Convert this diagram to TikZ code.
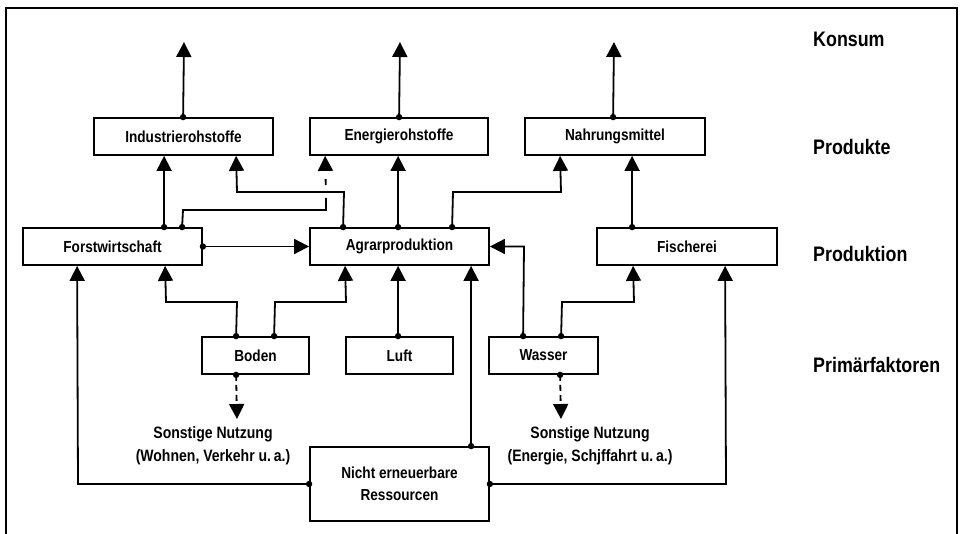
\documentclass[tikz,border=0pt]{standalone}
\usepackage{fontspec}
\setmainfont{Liberation Sans}[FakeStretch=0.85]
\usetikzlibrary{arrows.meta}
\begin{document}
\begin{tikzpicture}[x=1pt,y=-1pt,
  box/.style={draw, line width=1.8pt, inner sep=0pt, align=center, font=\fontsize{16}{22}\selectfont\bfseries},
  lab/.style={anchor=base west, inner sep=0pt, font=\fontsize{21}{24}\selectfont\bfseries},
  note/.style={inner sep=0pt, align=center, font=\fontsize{16.5}{23}\selectfont\bfseries},
  ln/.style={line width=1.8pt},
  arr/.style={ln, -{Triangle[length=15pt,width=15pt]}},
  dsh/.style={arr, dash pattern=on 6pt off 4pt}]
\useasboundingbox (0,0) rectangle (962,534);
% frame
\draw[ln] (6,534) -- (6,8) -- (957,8) -- (957,534);
% boxes
\node[box, minimum width=179pt, minimum height=37pt] (ind) at (183.5,136.5) {Industrierohstoffe};
\node[box, minimum width=178pt, minimum height=37pt] (ene) at (399,136.5) {Energierohstoffe};
\node[box, minimum width=180pt, minimum height=37pt] (nah) at (615,136.5) {Nahrungsmittel};
\node[box, minimum width=179pt, minimum height=37pt] (forst) at (112.5,246.5) {Forstwirtschaft};
\node[box, minimum width=179pt, minimum height=37pt] (agrar) at (399.5,246.5) {Agrarproduktion};
\node[box, minimum width=180pt, minimum height=37pt] (fisch) at (687,246.5) {Fischerei};
\node[box, minimum width=107pt, minimum height=37pt] (boden) at (255.5,355.5) {Boden};
\node[box, minimum width=107pt, minimum height=37pt] (luft) at (399.5,355.5) {Luft};
\node[box, minimum width=109pt, minimum height=37pt] (wasser) at (543.5,355.5) {Wasser};
\node[box, minimum width=179pt, minimum height=74pt] (res) at (399.5,484) {Nicht erneuerbare\\Ressourcen};
% right labels
\node[lab] (konsum) at (813,47) {Konsum};
\node[lab] (produkte) at (813,155) {Produkte};
\node[lab] (produktion) at (813,262) {Produktion};
\node[lab] (primaer) at (813,373) {Primärfaktoren};
% other use labels
\node[note] (sn1) at (213,445.5) {Sonstige Nutzung\\(Wohnen, Verkehr u.\,a.)};
\node[note] (sn2) at (590,445.5) {Sonstige Nutzung\\(Energie, Schjffahrt u.\,a.)};
% free ends
\coordinate (k1) at (184,42);
\coordinate (k2) at (400,42);
\coordinate (k3) at (614,42);
\coordinate (so1) at (237,419);
\coordinate (so2) at (561,419);
% connectors
\draw[arr] ([xshift=90pt]ind.north west) coordinate (d1) -- (k1);
\draw[arr] ([xshift=90pt]ene.north west) coordinate (d2) -- (k2);
\draw[arr] ([xshift=89pt]nah.north west) coordinate (d3) -- (k3);
\draw[arr] ([xshift=142pt]forst.north west) coordinate (d4) -- ([xshift=71pt]ind.south west);
\draw[ln] ([xshift=160pt]forst.north west) coordinate (d5) -- (183,210) -- (326,210) -- (326,198) coordinate (w5);
\draw[arr, dash pattern=on 0pt off 13pt on 6pt off 40pt] (w5) -- ([xshift=16pt]ene.south west);
\draw[arr] ([xshift=34pt]agrar.north west) coordinate (d6) -- (344,192) -- (237,192) -- ([xshift=143pt]ind.south west);
\draw[arr] ([xshift=89pt]agrar.north west) coordinate (d7) -- ([xshift=89pt]ene.south west);
\draw[arr] ([xshift=143pt]agrar.north west) coordinate (d8) -- (453,192) -- (561,192) -- ([xshift=36pt]nah.south west);
\draw[arr] ([xshift=36pt]fisch.north west) coordinate (d9) -- ([xshift=108pt]nah.south west);
\draw[arr] (forst.east) coordinate (d10) -- (agrar.west);
\draw[arr] ([xshift=35pt]wasser.north west) coordinate (d11) -- (524,246.5) -- (agrar.east);
\draw[arr] ([xshift=73pt]wasser.north west) coordinate (d12) -- (562,302) -- (634,302) -- ([xshift=37pt]fisch.south west);
\draw[arr] (res.east) coordinate (d13) -- (726,484) -- ([xshift=129pt]fisch.south west);
\draw[arr] (res.west) coordinate (d14) -- (78,484) -- ([xshift=55pt]forst.south west);
\draw[arr] ([xshift=162pt]res.north west) coordinate (d15) -- ([xshift=162pt]agrar.south west);
\draw[arr] ([xshift=35pt]boden.north west) coordinate (d16) -- (237,302) -- (166,302) -- ([xshift=143pt]forst.south west);
\draw[arr] ([xshift=73pt]boden.north west) coordinate (d17) -- (275,302) -- (346,302) -- ([xshift=36pt]agrar.south west);
\draw[arr] ([xshift=53pt]luft.north west) coordinate (d18) -- ([xshift=89pt]agrar.south west);
\draw[dsh] ([xshift=35pt]boden.south west) coordinate (d19) -- (so1);
\draw[dsh] ([xshift=72pt]wasser.south west) coordinate (d20) -- (so2);
% dots
\foreach \i in {1,...,20} \fill (d\i) circle (3.2pt);
\end{tikzpicture}
\end{document}
